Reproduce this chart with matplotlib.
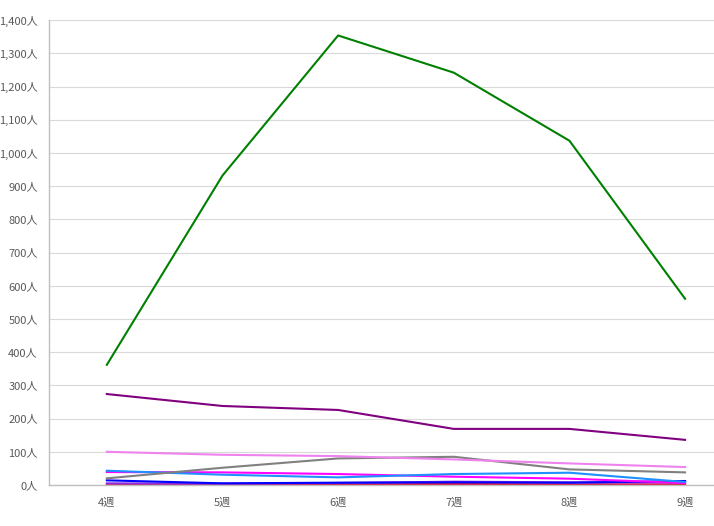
import matplotlib
matplotlib.use("Agg")
import matplotlib.pyplot as plt
from matplotlib.ticker import FuncFormatter, MultipleLocator

plt.rcParams['font.family'] = ['Noto Sans CJK JP', 'DejaVu Sans']

weeks = ["4週", "5週", "6週", "7週", "8週", "9週"]

series_green = [362, 932, 1354, 1242, 1037, 561]
series_purple = [274, 238, 226, 169, 169, 136]
series_violet = [100, 91, 87, 77, 65, 54]
series_gray = [20, 52, 80, 85, 47, 38]
series_dodgerblue = [43, 31, 23, 33, 37, 9]
series_magenta = [39, 38, 33, 25, 19, 6]
series_blue = [14, 5, 7, 8, 7, 12]
series_blueviolet = [5, 4, 6, 10, 8, 8]
series_crimson = [1, 1, 2, 3, 2, 2]

series = [
    (series_crimson, "#DC143C"),
    (series_blueviolet, "#8A2BE2"),
    (series_blue, "#0000FF"),
    (series_magenta, "#FF00FF"),
    (series_dodgerblue, "#1E90FF"),
    (series_gray, "#808080"),
    (series_violet, "#EE82EE"),
    (series_purple, "#800080"),
    (series_green, "#008000"),
]

W, H = 714, 526
fig = plt.figure(figsize=(W / 100, H / 100), dpi=100)
left, right, bottom, top = 49, 714, 485, 20.2
ax = fig.add_axes([left / W, (H - bottom) / H, (right - left) / W, (bottom - top) / H])

x = list(range(len(weeks)))
for vals, col in series:
    ax.plot(x, vals, color=col, linewidth=1.5, solid_joinstyle='round')

ax.set_xlim(-0.5, 5.25)
ax.set_ylim(0, 1400)
ax.set_xticks(x)
ax.set_xticklabels(weeks)
ax.yaxis.set_major_locator(MultipleLocator(100))
ax.yaxis.set_major_formatter(FuncFormatter(lambda v, p: f"{int(v):,}人"))
ax.grid(axis='y', color='#D9D9D9', linewidth=0.8)
ax.set_axisbelow(True)
for s in ['top', 'right']:
    ax.spines[s].set_visible(False)
for s in ['left', 'bottom']:
    ax.spines[s].set_color('#BFBFBF')
    ax.spines[s].set_linewidth(1.0)
ax.tick_params(axis='both', length=0, labelsize=8, colors='#595959')
ax.tick_params(axis='y', pad=8)
ax.tick_params(axis='x', pad=9)

fig.savefig("out.png", dpi=100)
